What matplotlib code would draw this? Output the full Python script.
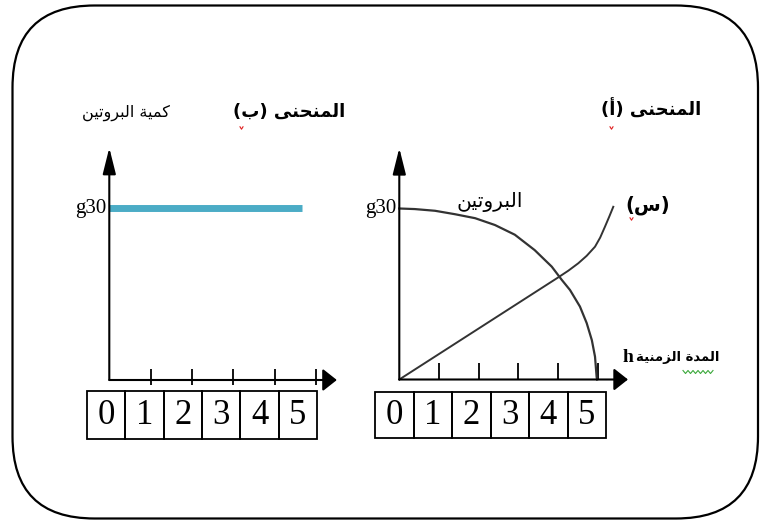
import matplotlib
matplotlib.use('Agg')
import matplotlib.pyplot as plt
from matplotlib.patches import FancyBboxPatch, Rectangle

# data
time_cells = [0, 1, 2, 3, 4, 5]
tick_t = [1, 2, 3, 4, 5]

# curve (b): protein stays at 30 g
b_t = [0, 4.67]
b_g = [30, 30]

# curve (a): protein
a_prot_t = [0, 0.39, 0.90, 1.40, 1.91, 2.41, 2.91, 3.41, 3.84, 4.09, 4.30,
            4.55, 4.72, 4.85, 4.93, 4.97, 4.98]
a_prot_g = [30, 29.9, 29.6, 29.0, 28.3, 27.1, 25.4, 22.7, 19.8, 17.5, 15.7,
            12.8, 9.9, 6.9, 4.0, 0.5, 0]

# curve (a): substance (s)
a_s_t = [0, 2, 4.0, 4.26, 4.51, 4.72, 4.93, 5.06, 5.18, 5.29, 5.39]
a_s_g = [0, 8.95, 17.9, 19.1, 20.4, 21.7, 23.3, 24.9, 26.8, 28.6, 30.3]

g_label = 'g30'

# --- arabic shaping (matplotlib has no text shaping) ---
FORMS = {
    'ا': ('\uFE8D', '\uFE8E', None, None),
    'أ': ('\uFE83', '\uFE84', None, None),
    'ب': ('\uFE8F', '\uFE90', '\uFE91', '\uFE92'),
    'ة': ('\uFE93', '\uFE94', None, None),
    'ت': ('\uFE95', '\uFE96', '\uFE97', '\uFE98'),
    'ح': ('\uFEA1', '\uFEA2', '\uFEA3', '\uFEA4'),
    'د': ('\uFEA9', '\uFEAA', None, None),
    'ر': ('\uFEAD', '\uFEAE', None, None),
    'ز': ('\uFEAF', '\uFEB0', None, None),
    'س': ('\uFEB1', '\uFEB2', '\uFEB3', '\uFEB4'),
    'ك': ('\uFED9', '\uFEDA', '\uFEDB', '\uFEDC'),
    'ل': ('\uFEDD', '\uFEDE', '\uFEDF', '\uFEE0'),
    'م': ('\uFEE1', '\uFEE2', '\uFEE3', '\uFEE4'),
    'ن': ('\uFEE5', '\uFEE6', '\uFEE7', '\uFEE8'),
    'و': ('\uFEED', '\uFEEE', None, None),
    'ى': ('\uFEEF', '\uFEF0', None, None),
    'ي': ('\uFEF1', '\uFEF2', '\uFEF3', '\uFEF4'),
}
LAM_ALEF = {'ا': ('\uFEFB', '\uFEFC'), 'أ': ('\uFEF7', '\uFEF8')}


def shape(s):
    chars = []
    i = 0
    while i < len(s):
        if s[i] == 'ل' and i + 1 < len(s) and s[i + 1] in LAM_ALEF:
            chars.append(('LA', s[i + 1]))
            i += 2
        else:
            chars.append((s[i], None))
            i += 1
    out = []
    for k, (c, extra) in enumerate(chars):
        prev = chars[k - 1][0] if k > 0 else None
        nxt = chars[k + 1][0] if k + 1 < len(chars) else None
        joins_prev = prev in FORMS and FORMS[prev][2] is not None
        if c == 'LA':
            iso, fin = LAM_ALEF[extra]
            out.append(fin if joins_prev else iso)
            continue
        if c not in FORMS:
            out.append(c)
            continue
        f = FORMS[c]
        joins_next = f[2] is not None and (nxt == 'LA' or nxt in FORMS)
        if joins_prev and joins_next:
            out.append(f[3])
        elif joins_prev:
            out.append(f[1])
        elif joins_next:
            out.append(f[2])
        else:
            out.append(f[0])
    mirror = {'(': ')', ')': '('}
    return ''.join(mirror.get(ch, ch) for ch in reversed(out))


W, H = 771, 520
fig = plt.figure(figsize=(W / 100, H / 100), dpi=100)
bg = fig.add_axes([0, 0, 1, 1])
bg.set_xlim(0, W)
bg.set_ylim(H, 0)
bg.axis('off')

# rounded frame
bg.add_patch(FancyBboxPatch((12.5 + 82, 5.5 + 82), 745.5 - 164, 513 - 164,
                            boxstyle='round,pad=82', fill=False, lw=1.6,
                            edgecolor='black'))

serif = 'Liberation Serif'
arab = 'DejaVu Sans'


def panel(x0, y0, ux, uy, xmax, ymax):
    ax = fig.add_axes([x0 / W, (H - y0) / H, xmax * ux / W, ymax * uy / H])
    ax.set_xlim(0, xmax)
    ax.set_ylim(0, ymax)
    ax.axis('off')
    return ax


def axes_arrows(ax, xtip, ytip):
    ax.annotate('', xy=(xtip, 0), xytext=(0, 0),
                arrowprops=dict(arrowstyle='-|>,head_length=0.43,head_width=0.34',
                                lw=1.5, color='black', mutation_scale=20,
                                shrinkA=0, shrinkB=0), annotation_clip=False)
    ax.annotate('', xy=(0, ytip), xytext=(0, 0),
                arrowprops=dict(arrowstyle='-|>,head_length=0.8,head_width=0.2',
                                lw=1.5, color='black', mutation_scale=20,
                                shrinkA=0, shrinkB=0), annotation_clip=False)


def table(x0, x1, y0, y1):
    cw = (x1 - x0) / len(time_cells)
    for i, v in enumerate(time_cells):
        bg.add_patch(Rectangle((x0 + i * cw, y0), cw, y1 - y0, fill=False,
                               lw=1.3, edgecolor='black'))
        bg.text(x0 + (i + 0.5) * cw, (y0 + y1) / 2 + 1, str(v), ha='center',
                va='center', fontsize=25, family=serif, color='black')


def squiggle(x, y, n, color, step=2.5, amp=1.5):
    xs = [x + step * k for k in range(n)]
    ys = [y + (amp if k % 2 else -amp) for k in range(n)]
    bg.plot(xs, ys, color=color, lw=0.8)


# ---- panel (b), left ----
axb = panel(109.3, 380, 41.3, 5.733, 5.7, 41.5)
axes_arrows(axb, 5.51, 40.5)
axb.vlines(tick_t, -0.9, 2.0, color='black', lw=1.3, clip_on=False)
axb.plot(b_t, b_g, color='#4bacc6', lw=5, solid_capstyle='butt', clip_on=False)
table(87, 317, 391, 439)
bg.text(106, 208, g_label, ha='right', va='center', fontsize=15, family=serif)
bg.text(126, 113, shape('كمية البروتين'), ha='center', va='center',
        fontsize=11.5, family=arab)
bg.text(289, 112, shape('المنحنى (ب)'), ha='center', va='center',
        fontsize=13, family=arab, weight='bold')
squiggle(240, 128, 3, '#e02020', step=1.5, amp=1.2)

# ---- panel (a), right ----
axa = panel(399.3, 379.5, 39.7, 5.7, 5.9, 41.5)
axes_arrows(axa, 5.76, 40.6)
axa.vlines(tick_t, 0, 2.9, color='black', lw=1.3, clip_on=False)
axa.plot(a_prot_t, a_prot_g, color='#333333', lw=1.6, clip_on=False)
axa.plot(a_s_t, a_s_g, color='#333333', lw=1.4, clip_on=False)
table(375, 606, 392, 438)
bg.text(396, 208, g_label, ha='right', va='center', fontsize=15, family=serif)
bg.text(490, 202, shape('البروتين'), ha='center', va='center',
        fontsize=14.5, family=arab)
bg.text(648, 205, shape('(س)'), ha='center', va='center',
        fontsize=14, family=arab, weight='bold')
squiggle(630, 219, 3, '#e02020', step=1.5, amp=1.2)
bg.text(651, 110, shape('المنحنى (أ)'), ha='center', va='center',
        fontsize=13, family=arab, weight='bold')
squiggle(610, 128, 3, '#e02020', step=1.5, amp=1.2)
bg.text(623, 358, 'h', ha='left', va='center', fontsize=14, family=serif,
        weight='bold')
bg.text(636, 358, shape('المدة الزمنية'), ha='left', va='center',
        fontsize=9.5, family=arab, weight='bold')

# spell-check squiggle under the time label
squiggle(683, 372, 13, '#3aa83a')

fig.savefig('out.png', dpi=100)
